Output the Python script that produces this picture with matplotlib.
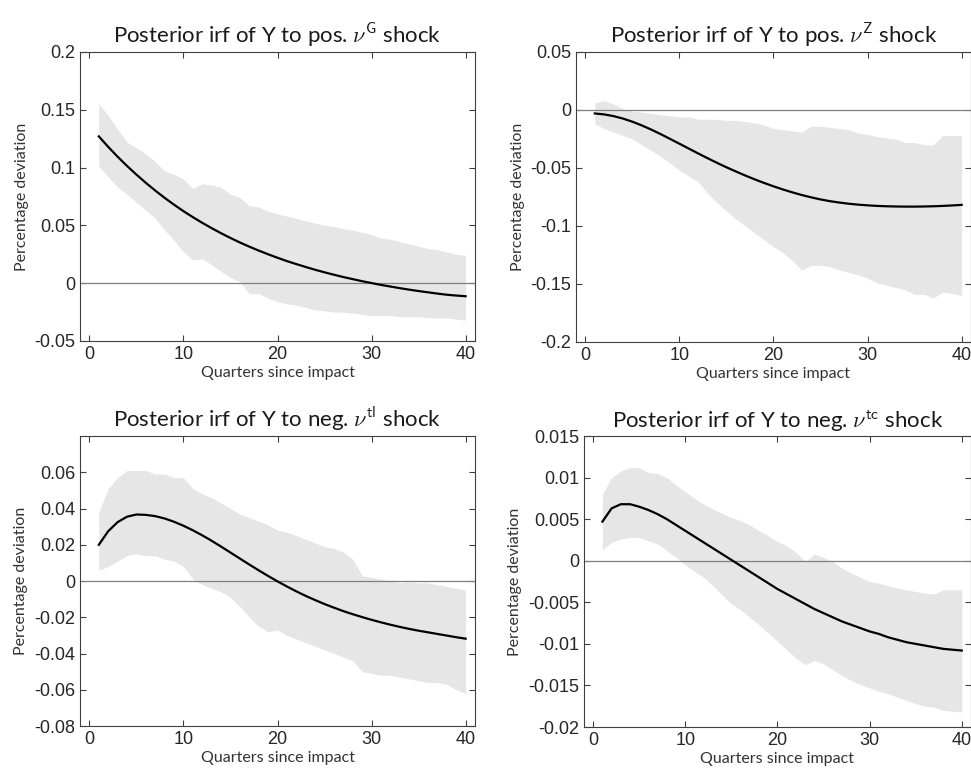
import matplotlib.pyplot as plt
import numpy as np

quarters = np.arange(1, 41)

# response to positive nu^G shock
g_mean = [0.1270, 0.1179, 0.1094, 0.1014, 0.0939, 0.0868, 0.0801, 0.0738, 0.0679, 0.0623,
          0.0571, 0.0522, 0.0476, 0.0432, 0.0391, 0.0352, 0.0316, 0.0282, 0.0250, 0.0220,
          0.0191, 0.0165, 0.0140, 0.0116, 0.0094, 0.0073, 0.0053, 0.0035, 0.0017, 0.0001,
          -0.0015, -0.0029, -0.0043, -0.0056, -0.0068, -0.0079, -0.0090, -0.0100, -0.0107, -0.0113]
g_upper = [0.155, 0.145, 0.133, 0.122, 0.117, 0.112, 0.105, 0.097, 0.094, 0.090,
           0.082, 0.086, 0.085, 0.083, 0.077, 0.074, 0.067, 0.066, 0.062, 0.060,
           0.058, 0.056, 0.054, 0.052, 0.050, 0.049, 0.047, 0.046, 0.044, 0.042,
           0.039, 0.038, 0.036, 0.034, 0.032, 0.030, 0.029, 0.027, 0.025, 0.024]
g_lower = [0.101, 0.092, 0.083, 0.077, 0.070, 0.063, 0.056, 0.046, 0.037, 0.027,
           0.020, 0.021, 0.016, 0.010, 0.005, 0.001, -0.009, -0.009, -0.013, -0.016,
           -0.018, -0.019, -0.021, -0.023, -0.024, -0.025, -0.025, -0.026, -0.027, -0.028,
           -0.028, -0.028, -0.029, -0.029, -0.029, -0.030, -0.030, -0.030, -0.031, -0.032]

# response to positive nu^Z shock
z_mean = [-0.0030, -0.0038, -0.0053, -0.0074, -0.0101, -0.0133, -0.0169, -0.0208, -0.0249, -0.0291,
          -0.0333, -0.0375, -0.0416, -0.0456, -0.0494, -0.0530, -0.0565, -0.0598, -0.0629, -0.0658,
          -0.0685, -0.0710, -0.0733, -0.0753, -0.0771, -0.0786, -0.0798, -0.0808, -0.0816, -0.0822,
          -0.0827, -0.0830, -0.0832, -0.0833, -0.0833, -0.0832, -0.0830, -0.0827, -0.0823, -0.0818]
z_upper = [0.006, 0.008, 0.005, 0.001, -0.001, -0.002, -0.003, -0.004, -0.005, -0.006,
           -0.006, -0.008, -0.008, -0.008, -0.009, -0.009, -0.010, -0.011, -0.013, -0.016,
           -0.017, -0.018, -0.019, -0.014, -0.014, -0.015, -0.016, -0.017, -0.020, -0.021,
           -0.023, -0.024, -0.025, -0.028, -0.028, -0.030, -0.030, -0.022, -0.022, -0.022]
z_lower = [-0.012, -0.016, -0.019, -0.022, -0.025, -0.030, -0.035, -0.040, -0.046, -0.052,
           -0.057, -0.062, -0.072, -0.080, -0.087, -0.094, -0.100, -0.106, -0.112, -0.118,
           -0.123, -0.130, -0.138, -0.134, -0.134, -0.135, -0.138, -0.140, -0.142, -0.145,
           -0.149, -0.151, -0.153, -0.155, -0.159, -0.159, -0.162, -0.157, -0.158, -0.160]

# response to negative nu^tl shock
tl_mean = [0.0200, 0.0275, 0.0325, 0.0355, 0.0367, 0.0365, 0.0358, 0.0345, 0.0327, 0.0305,
           0.0280, 0.0252, 0.0222, 0.0190, 0.0157, 0.0124, 0.0091, 0.0059, 0.0028, -0.0002,
           -0.0030, -0.0057, -0.0082, -0.0105, -0.0127, -0.0147, -0.0166, -0.0183, -0.0199, -0.0214,
           -0.0228, -0.0241, -0.0253, -0.0264, -0.0274, -0.0283, -0.0292, -0.0301, -0.0310, -0.0318]
tl_upper = [0.038, 0.051, 0.057, 0.061, 0.061, 0.061, 0.059, 0.059, 0.057, 0.057,
            0.051, 0.048, 0.046, 0.043, 0.040, 0.037, 0.035, 0.033, 0.031, 0.028,
            0.027, 0.025, 0.023, 0.021, 0.019, 0.018, 0.016, 0.012, 0.003, 0.002,
            0.001, 0.000, -0.001, -0.0005, -0.001, -0.001, -0.002, -0.003, -0.004, -0.005]
tl_lower = [0.006, 0.008, 0.011, 0.014, 0.015, 0.014, 0.014, 0.012, 0.011, 0.008,
            0.001, -0.002, -0.004, -0.006, -0.009, -0.014, -0.020, -0.025, -0.028, -0.027,
            -0.030, -0.032, -0.034, -0.036, -0.038, -0.040, -0.042, -0.044, -0.050, -0.051,
            -0.052, -0.052, -0.053, -0.054, -0.055, -0.056, -0.056, -0.057, -0.060, -0.062]

# response to negative nu^tc shock
tc_mean = [0.0047, 0.0063, 0.0068, 0.0068, 0.0065, 0.0061, 0.0056, 0.0050, 0.0043, 0.0036,
           0.0029, 0.0022, 0.0015, 0.0008, 0.0001, -0.0006, -0.0013, -0.0020, -0.0027, -0.0034,
           -0.0040, -0.0046, -0.0052, -0.0058, -0.0063, -0.0068, -0.0073, -0.0077, -0.0081, -0.0085,
           -0.0088, -0.0092, -0.0095, -0.0098, -0.0100, -0.0102, -0.0104, -0.0106, -0.0107, -0.0108]
tc_upper = [0.0080, 0.0100, 0.0108, 0.0112, 0.0112, 0.0106, 0.0105, 0.0100, 0.0091, 0.0083,
            0.0075, 0.0068, 0.0062, 0.0057, 0.0052, 0.0048, 0.0043, 0.0036, 0.0030, 0.0023,
            0.0018, 0.0010, -0.0001, 0.0008, 0.0004, -0.0001, -0.0009, -0.0015, -0.0020, -0.0025,
            -0.0027, -0.0030, -0.0033, -0.0035, -0.0037, -0.0039, -0.0040, -0.0035, -0.0035, -0.0035]
tc_lower = [0.0013, 0.0022, 0.0026, 0.0028, 0.0028, 0.0024, 0.0020, 0.0012, 0.0004, -0.0005,
            -0.0013, -0.0020, -0.0030, -0.0041, -0.0052, -0.0059, -0.0068, -0.0077, -0.0087, -0.0097,
            -0.0107, -0.0117, -0.0125, -0.0120, -0.0124, -0.0131, -0.0138, -0.0144, -0.0149, -0.0153,
            -0.0157, -0.0160, -0.0164, -0.0168, -0.0172, -0.0175, -0.0176, -0.0180, -0.0181, -0.0182]

titles = [r'Posterior irf of Y to pos. $\nu^{\mathsf{G}}$ shock',
          r'Posterior irf of Y to pos. $\nu^{\mathsf{Z}}$ shock',
          r'Posterior irf of Y to neg. $\nu^{\mathsf{tl}}$ shock',
          r'Posterior irf of Y to neg. $\nu^{\mathsf{tc}}$ shock']

plt.rcParams['mathtext.fontset'] = 'cm'

fig = plt.figure(figsize=(9.71, 7.76), dpi=100)

# axes rectangles (left, bottom, width, height)
rects = [[0.0824, 0.5606, 0.4068, 0.3724],
         [0.5932, 0.5593, 0.4068, 0.3737],
         [0.0824, 0.0644, 0.4068, 0.3737],
         [0.6014, 0.0631, 0.3986, 0.3750]]
ylims = [(-0.05, 0.2), (-0.2, 0.05), (-0.08, 0.08), (-0.02, 0.015)]
yticks = [np.arange(-0.05, 0.201, 0.05), np.arange(-0.2, 0.051, 0.05),
          np.arange(-0.08, 0.061, 0.02), np.arange(-0.02, 0.0151, 0.005)]
ytick_labels = [['-0.05', '0', '0.05', '0.1', '0.15', '0.2'],
                ['-0.2', '-0.15', '-0.1', '-0.05', '0', '0.05'],
                ['-0.08', '-0.06', '-0.04', '-0.02', '0', '0.02', '0.04', '0.06'],
                ['-0.02', '-0.015', '-0.01', '-0.005', '0', '0.005', '0.01', '0.015']]
series = [(g_mean, g_upper, g_lower), (z_mean, z_upper, z_lower),
          (tl_mean, tl_upper, tl_lower), (tc_mean, tc_upper, tc_lower)]

for i in range(4):
    ax = fig.add_axes(rects[i])
    mean, upper, lower = series[i]
    ax.fill_between(quarters, lower, upper, color='#e6e6e6', linewidth=0)
    ax.axhline(0, color='#7f7f7f', linewidth=0.9)
    ax.plot(quarters, mean, color='black', linewidth=1.6)
    ax.set_xlim(-1, 41)
    ax.set_ylim(*ylims[i])
    ax.set_xticks([0, 10, 20, 30, 40])
    ax.set_yticks(yticks[i])
    ax.set_yticklabels(ytick_labels[i])
    ax.tick_params(direction='in', top=True, right=True, length=4, width=0.8,
                   colors='#404040', labelsize=13, labelcolor='#262626')
    for lbl in ax.get_xticklabels() + ax.get_yticklabels():
        lbl.set_fontfamily('Liberation Sans')
    for s in ax.spines.values():
        s.set_color('#404040')
        s.set_linewidth(0.8)
    ax.set_xlabel('Quarters since impact', fontsize=11.5, family='Lato',
                  color='#333333', labelpad=2)
    ax.set_ylabel('Percentage deviation', fontsize=11.5, family='Lato',
                  color='#333333', labelpad=4)
    ax.set_title(titles[i], fontsize=16, family='Lato', color='#1a1a1a', pad=6)

plt.savefig('out.png', dpi=100)
